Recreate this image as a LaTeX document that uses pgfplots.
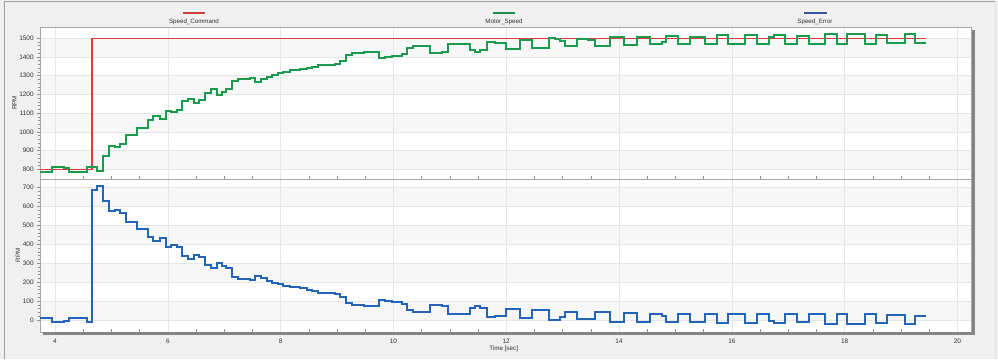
\documentclass[border=0pt]{standalone}
\usepackage{fontspec}
\setmainfont{Liberation Sans}
\usepackage{pgfplots}
\usepackage{pgfplotstable}
\pgfplotsset{compat=1.18}
\definecolor{bgc}{HTML}{F0F0F0}
\definecolor{bandc}{HTML}{F7F7F7}
\definecolor{gridc}{HTML}{E6E6E6}
\definecolor{axisc}{HTML}{A8A8A8}
\definecolor{tickc}{HTML}{909090}
\definecolor{labc}{HTML}{303030}
\definecolor{shadowc}{HTML}{858585}
\definecolor{framec}{HTML}{A0A0A0}
\definecolor{framelight}{HTML}{E2E2E2}
\definecolor{cmdred}{HTML}{E03A3A}
\definecolor{spdgreen}{HTML}{1A9A4E}
\definecolor{errblue}{HTML}{2464B8}
\definecolor{legred}{HTML}{C84040}
\definecolor{leggreen}{HTML}{1E8C4A}
\definecolor{legblue}{HTML}{34559A}

\pgfplotstableread{
t e
3.734 12
3.95 -12
4.165 -5
4.255 12
4.56 -12
4.655 686
4.75 709
4.856 630
4.957 577
5.064 582
5.15 563
5.25 515
5.38 519
5.46 478
5.65 436
5.74 418
5.86 431
5.96 387
6.05 396
6.16 383
6.26 338
6.36 322
6.46 345
6.55 331
6.66 290
6.76 273
6.87 302
6.96 287
7.04 273
7.14 229
7.25 216
7.45 211
7.55 232
7.66 220
7.75 206
7.84 194
7.96 188
8.05 179
8.17 172
8.34 167
8.46 158
8.55 153
8.67 144
8.85 141
8.96 136
9.05 123
9.16 88
9.26 79
9.47 75
9.64 72
9.75 106
9.85 100
9.97 93
10.15 84
10.24 53
10.34 44
10.65 79
10.86 75
10.96 30
11.36 65
11.45 72
11.54 65
11.65 18
11.80 23
12.00 56
12.24 12
12.45 53
12.57 51
12.75 0
12.87 2
12.95 15
13.04 44
13.25 5
13.45 8
13.57 40
13.84 -9
14.08 35
14.31 -9
14.55 30
14.76 21
14.84 -12
15.05 30
15.26 -9
15.52 30
15.73 -18
15.94 30
16.23 -16
16.44 30
16.65 -5
16.74 -18
16.94 32
17.15 -12
17.36 30
17.65 -21
17.86 30
18.04 -21
18.36 30
18.56 -18
18.75 26
19.07 -21
19.25 24
19.44 24
}\errtab

\pgfplotstableread{
t s
3.734 788
3.95 812
4.165 805
4.255 788
4.56 812
4.655 814
4.75 791
4.856 870
4.957 923
5.064 918
5.15 937
5.25 985
5.38 981
5.46 1022
5.65 1064
5.74 1082
5.86 1069
5.96 1113
6.05 1104
6.16 1117
6.26 1162
6.36 1178
6.46 1155
6.55 1169
6.66 1210
6.76 1227
6.87 1198
6.96 1213
7.04 1227
7.14 1271
7.25 1284
7.45 1289
7.55 1268
7.66 1280
7.75 1294
7.84 1306
7.96 1312
8.05 1321
8.17 1328
8.34 1333
8.46 1342
8.55 1347
8.67 1356
8.85 1359
8.96 1364
9.05 1377
9.16 1412
9.26 1421
9.47 1425
9.64 1428
9.75 1394
9.85 1400
9.97 1407
10.15 1416
10.24 1447
10.34 1456
10.65 1421
10.86 1425
10.96 1470
11.36 1435
11.45 1428
11.54 1435
11.65 1482
11.80 1477
12.00 1444
12.24 1488
12.45 1447
12.57 1449
12.75 1500
12.87 1498
12.95 1485
13.04 1456
13.25 1495
13.45 1492
13.57 1460
13.84 1509
14.08 1465
14.31 1509
14.55 1470
14.76 1479
14.84 1512
15.05 1470
15.26 1509
15.52 1470
15.73 1518
15.94 1470
16.23 1516
16.44 1470
16.65 1505
16.74 1518
16.94 1468
17.15 1512
17.36 1470
17.65 1521
17.86 1470
18.04 1521
18.36 1470
18.56 1518
18.75 1474
19.07 1521
19.25 1476
19.44 1476
}\spdtab

\pgfplotsset{
  chartbase/.style={
    scale only axis, width=931bp,
    xmin=3.734, xmax=20.24,
    xtick={4,6,...,20}, minor x tick num=3,
    xtick pos=bottom, ytick pos=left,
    tick align=inside,
    major tick length=3.5bp, minor tick length=3bp,
    major x tick style={draw=none},
    minor x tick style={draw=tickc, line width=0.5bp},
    major y tick style={draw=tickc, line width=0.5bp, xshift=-3.5bp},
    minor y tick style={draw=tickc, line width=0.5bp, xshift=-2.5bp},
    minor y tick num=4,
    grid=major, major grid style={draw=gridc, line width=0.6bp},
    axis line style={draw=axisc, line width=0.6bp},
    tick label style={font=\fontsize{6.5}{7}\selectfont, text=labc},
    yticklabel style={xshift=-2.8bp},
    /pgf/number format/assume math mode=true,
    /pgf/number format/1000 sep={},
    label style={font=\fontsize{6.3}{7}\selectfont, text=labc},
  }
}

\begin{document}
\begin{tikzpicture}[x=1bp,y=1bp]
\fill[bgc] (0,0) rectangle (998,359);
\draw[framelight, line width=0.8bp] (995,0) -- (995,357.5);
\draw[framec, line width=0.8bp] (4,0) -- (4,357.5) -- (995,357.5);
\fill[white] (40,27) rectangle (971.5,332);
% background bands (decoration)
\foreach \a/\b in {189.73/208.45, 227.17/245.89, 264.61/283.33, 302.05/320.77,
                   38.94/57.90, 76.86/95.82, 114.78/133.74, 152.70/171.66}
  {\fill[bandc] (40,\a) rectangle (971.5,\b);}

% legend
\draw[draw=legred, line width=1.6bp] (183,345.7) -- (205,345.7);
\node[font=\fontsize{6.2}{7}\selectfont, text=labc] at (194,337.5) {Speed\_Command};
\draw[draw=leggreen, line width=1.6bp] (493,345.7) -- (515,345.7);
\node[font=\fontsize{6.2}{7}\selectfont, text=labc] at (504,337.5) {Motor\_Speed};
\draw[draw=legblue, line width=1.6bp] (804,345.7) -- (826.5,345.7);
\node[font=\fontsize{6.2}{7}\selectfont, text=labc] at (815,337.5) {Speed\_Error};

% upper panel
\begin{axis}[chartbase,
  at={(40bp,180bp)}, anchor=south west, height=152bp,
  ymin=748, ymax=1560,
  ytick={800,900,...,1500},
  xticklabels={},
  ylabel={RPM},
  ylabel style={at={(axis description cs:-0.0274,0.5)}, anchor=center},
]
\addplot[const plot, draw=cmdred, line width=1.4bp] coordinates {(3.734,800) (4.655,1500) (19.44,1500)};
\addplot[const plot, draw=spdgreen, line width=2bp] table[x=t, y=s] {\spdtab};
\end{axis}

% lower panel
\begin{axis}[chartbase,
  at={(40bp,27bp)}, anchor=south west, height=153bp,
  ymin=-63, ymax=744,
  ytick={0,100,...,700},
  xticklabel style={yshift=-3.5bp},
  xlabel={Time [sec]},
  xlabel style={at={(axis description cs:0.498,-0.111)}, anchor=center},
  ylabel={RPM},
  ylabel style={at={(axis description cs:-0.0236,0.5)}, anchor=center},
]
\addplot[const plot, draw=errblue, line width=2bp] table[x=t, y=e] {\errtab};
\end{axis}

% shadow of plot frame
\fill[shadowc] (42.5,24.2) rectangle (975,27);
\fill[shadowc] (971.5,24.2) rectangle (975,329);
\useasboundingbox (0,0) rectangle (998,359);
\end{tikzpicture}
\end{document}
